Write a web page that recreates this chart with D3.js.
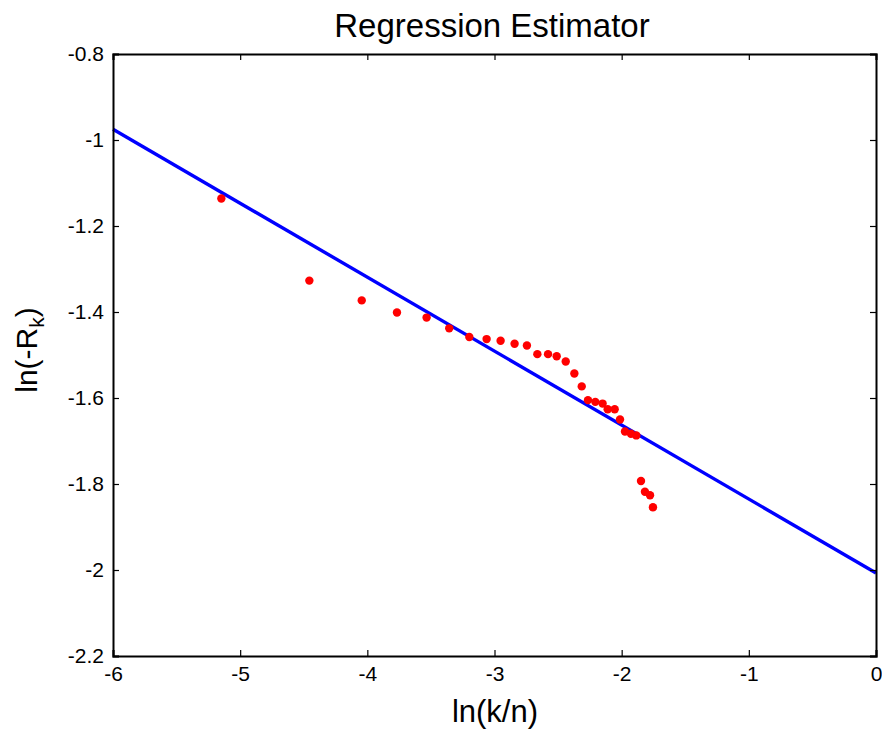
<!DOCTYPE html>
<html>
<head>
<meta charset="utf-8">
<script src="https://cdn.jsdelivr.net/npm/d3@7"></script>
<style>
    body { margin: 0; background: #fff; }
    text { font-family: "Liberation Sans", Arial, sans-serif; fill: #000; }
</style>
</head>
<body>
<svg id="chart" width="882" height="729"></svg>
<script>
// 散点数据 ln(k/n), ln(-R_k)
let pointX = [-5.148, -4.456, -4.044, -3.767, -3.534, -3.356, -3.198, -3.062, -2.952, -2.842,
    -2.745, -2.663, -2.579, -2.511, -2.440, -2.372, -2.314, -2.265, -2.207, -2.150,
    -2.110, -2.055, -2.013, -1.974, -1.927, -1.885, -1.848, -1.817, -1.777, -1.754];
let pointY = [-1.136, -1.327, -1.373, -1.401, -1.413, -1.438, -1.458, -1.463, -1.467, -1.474,
    -1.478, -1.498, -1.498, -1.503, -1.515, -1.543, -1.573, -1.605, -1.609, -1.613,
    -1.626, -1.626, -1.650, -1.678, -1.683, -1.687, -1.793, -1.818, -1.826, -1.854];
// 回归直线 两端
let lineX = [-6, 0];
let lineY = [-0.975, -2.007];
// 刻度
let xTicks = [-6, -5, -4, -3, -2, -1, 0];
let yTicks = [-2.2, -2, -1.8, -1.6, -1.4, -1.2, -1, -0.8];

const WIDTH = 882;
const HEIGHT = 729;
const margin = { left: 113, right: 6, top: 54, bottom: 73 };
const TICK_LEN = 6;

let svg = d3.select("#chart");

let x = d3.scaleLinear().domain([-6, 0]).range([margin.left, WIDTH - margin.right]);
let y = d3.scaleLinear().domain([-2.2, -0.8]).range([HEIGHT - margin.bottom, margin.top]);

let fmt = d => String(+d.toFixed(1));

//回归线
let lineData = lineX.map((d, i) => [d, lineY[i]]);
svg.append("path")
    .datum(lineData)
    .attr("d", d3.line().x(d => x(d[0])).y(d => y(d[1])))
    .attr("fill", "none")
    .attr("stroke", "#0000ff")
    .attr("stroke-width", "3.4px");

//红点
svg.append("g")
    .selectAll("circle")
    .data(pointX.map((d, i) => [d, pointY[i]]))
    .join("circle")
    .attr("cx", d => x(d[0]))
    .attr("cy", d => y(d[1]))
    .attr("r", 4.2)
    .attr("fill", "#ff0000");

//坐标轴 (刻度朝内)
let axisBottom = d3.axisBottom(x).tickValues(xTicks).tickSize(-TICK_LEN).tickPadding(10).tickFormat(fmt);
let axisTop = d3.axisTop(x).tickValues(xTicks).tickSize(-TICK_LEN).tickFormat("");
let axisLeft = d3.axisLeft(y).tickValues(yTicks).tickSize(-TICK_LEN).tickPadding(9).tickFormat(fmt);
let axisRight = d3.axisRight(y).tickValues(yTicks).tickSize(-TICK_LEN).tickFormat("");

let gB = svg.append("g").attr("transform", `translate(0,${HEIGHT - margin.bottom})`).call(axisBottom);
let gT = svg.append("g").attr("transform", `translate(0,${margin.top})`).call(axisTop);
let gL = svg.append("g").attr("transform", `translate(${margin.left},0)`).call(axisLeft);
let gR = svg.append("g").attr("transform", `translate(${WIDTH - margin.right},0)`).call(axisRight);

[gB, gT, gL, gR].forEach(g => {
    g.select(".domain").attr("stroke", "#000").attr("stroke-width", 2);
    g.selectAll(".tick line").attr("stroke", "#000").attr("stroke-width", 1.2);
    g.selectAll(".tick text").style("font-size", "21px").attr("fill", "#000");
});
gB.selectAll(".tick text").attr("dy", "0.7em");

//标题
svg.append("text")
    .attr("x", 492)
    .attr("y", 37)
    .attr("text-anchor", "middle")
    .style("font-size", "33px")
    .text("Regression Estimator");

//x轴标签
svg.append("text")
    .attr("x", 495)
    .attr("y", 722)
    .attr("text-anchor", "middle")
    .style("font-size", "31px")
    .text("ln(k/n)");

//y轴标签
let yLabel = svg.append("text")
    .attr("transform", "translate(37,350) rotate(-90)")
    .attr("text-anchor", "middle")
    .style("font-size", "30px");
yLabel.append("tspan").text("ln(-R");
yLabel.append("tspan").attr("dy", 7).style("font-size", "21px").text("k");
yLabel.append("tspan").attr("dy", -7).text(")");
</script>
</body>
</html>
